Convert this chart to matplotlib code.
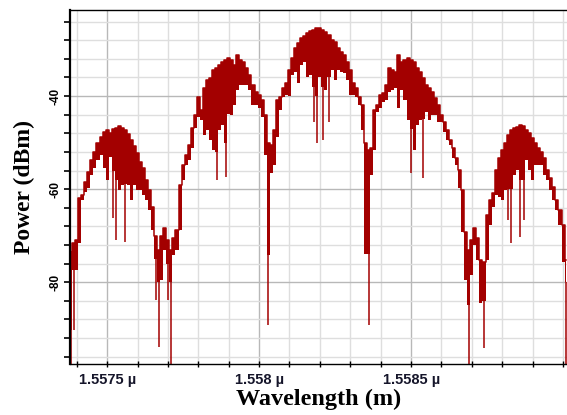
import numpy as np
import matplotlib.pyplot as plt
from matplotlib.ticker import MultipleLocator

# optical spectrum sampled every 0.01 nm (wavelength in um, power in dBm)
start_um = 1.55738
step_um = 0.00001

# upper edge of the trace in each sample bin
power_top = [
    -73.5, -71.6, -71.0, -61.9, -61.3, -58.5, -56.3, -53.8, -52.0, -50.1,
    -48.8, -47.7, -47.3, -48.0, -47.1, -46.9, -46.4, -46.9, -47.3, -48.2,
    -49.5, -50.8, -52.3, -54.2, -55.5, -58.1, -60.2, -63.9, -70.1, -73.1,
    -70.1, -68.4, -71.0, -73.1, -70.6, -68.8, -59.1, -54.8, -52.7, -50.5,
    -46.9, -44.1, -40.2, -43.0, -38.3, -36.6, -36.1, -34.4, -34.0, -33.3,
    -32.7, -32.3, -31.9, -32.3, -33.3, -31.2, -32.3, -32.7, -34.0, -35.5,
    -37.6, -39.1, -39.8, -40.9, -44.1, -50.1, -50.5, -47.3, -40.9, -40.2,
    -38.3, -37.2, -34.4, -31.9, -29.7, -28.6, -27.5, -27.1, -26.4, -26.0,
    -25.8, -25.4, -25.4, -25.8, -26.2, -26.9, -28.0, -28.4, -29.7, -30.5,
    -31.2, -32.7, -34.4, -37.2, -38.3, -40.2, -41.9, -50.1, -51.6, -51.2,
    -43.0, -41.9, -39.8, -39.4, -37.6, -34.0, -34.4, -34.9, -31.2, -32.7,
    -32.3, -31.9, -32.3, -32.7, -34.0, -34.9, -36.1, -37.6, -38.3, -39.1,
    -40.4, -41.9, -44.1, -45.6, -47.3, -49.5, -51.2, -53.3, -55.9, -60.2,
    -69.2, -73.1, -71.0, -68.4, -70.6, -75.3, -75.7, -65.6, -62.4, -60.9,
    -55.9, -53.3, -51.6, -50.1, -48.4, -47.3, -46.9, -46.6, -46.2, -46.4,
    -47.3, -48.0, -49.1, -50.1, -51.2, -52.0, -53.3, -55.9, -57.6, -59.6,
    -62.4, -64.5, -67.7, -75.3,
]

# lower edge of the dense ripple in each sample bin
power_low = [
    -90.3, -77.4, -77.4, -71.6, -62.4, -60.6, -59.8, -57.0, -55.5, -53.8,
    -52.7, -55.5, -58.1, -53.1, -56.0, -58.0, -60.2, -59.1, -59.0, -59.1,
    -62.4, -59.1, -60.2, -60.2, -61.3, -62.4, -64.5, -68.8, -75.0, -80.0,
    -79.6, -73.1, -76.0, -80.0, -74.2, -73.1, -68.8, -58.1, -54.8, -53.8,
    -51.2, -46.9, -44.5, -45.2, -48.4, -47.3, -49.5, -51.6, -52.0, -47.3,
    -46.2, -50.0, -43.9, -44.1, -41.9, -38.7, -37.6, -37.6, -37.6, -38.7,
    -41.9, -41.9, -42.6, -44.5, -52.7, -74.2, -56.6, -54.8, -48.8, -43.0,
    -40.2, -39.8, -40.0, -35.5, -34.9, -37.2, -33.3, -32.7, -35.9, -35.5,
    -38.0, -40.0, -35.9, -38.0, -38.7, -36.0, -34.4, -36.6, -34.4, -34.9,
    -35.1, -36.6, -39.8, -39.8, -40.2, -41.9, -47.3, -74.0, -74.0, -57.0,
    -51.6, -43.4, -42.6, -41.3, -40.9, -39.1, -38.7, -38.3, -42.6, -38.7,
    -40.9, -45.2, -47.0, -51.6, -46.2, -45.2, -45.0, -43.4, -45.2, -44.1,
    -44.1, -45.6, -45.6, -47.7, -49.5, -50.5, -53.3, -54.8, -59.8, -69.2,
    -79.6, -85.0, -78.5, -72.0, -75.3, -84.5, -84.0, -75.3, -67.7, -63.9,
    -61.3, -61.7, -62.4, -60.2, -60.0, -60.0, -57.0, -55.9, -58.0, -58.0,
    -53.8, -55.9, -58.1, -54.8, -54.8, -54.8, -57.0, -58.1, -60.2, -62.4,
    -64.5, -67.7, -75.7, -80.0,
]

# narrow notches reaching below the ripple
notch_um = [
    1.55738, 1.55739, 1.55752, 1.55753, 1.55756, 1.55766, 1.55767, 1.55770,
    1.55771, 1.55786, 1.55789, 1.55803, 1.55818, 1.55819, 1.55821, 1.55823,
    1.55836, 1.55850, 1.55854, 1.55869, 1.55873, 1.55874, 1.55882, 1.55883,
    1.55886, 1.55887, 1.55901,
]
notch_dbm = [
    -100.0, -90.3, -66.2, -71.0, -71.4, -83.9, -94.0, -83.9,
    -100.0, -58.1, -57.5, -89.2, -45.6, -50.1, -49.5, -45.6,
    -89.2, -56.6, -57.6, -100.0, -84.5, -94.2, -66.7, -71.6,
    -70.3, -66.7, -100.0,
]

x_major = [1.5575, 1.558, 1.5585]
x_labels = ['1.5575 µ', '1.558 µ', '1.5585 µ']
y_major = [-80, -60, -40]

wavelength = np.round(start_um + step_um * np.arange(len(power_top)), 6)
low_at_notch = np.interp(notch_um, wavelength, power_low)

trace_color = '#a30000'

fig = plt.figure(figsize=(5.67, 4.15), dpi=100)
ax = fig.add_axes([0.1235, 0.1217, 0.8765, 0.8542])

# ripple band, its upper edge, then the notches
ax.fill_between(wavelength, power_low, power_top, step='mid',
                color=trace_color, lw=0)
ax.step(wavelength, power_top, where='mid', color=trace_color, lw=1.1)
ax.vlines(notch_um, notch_dbm, low_at_notch, color=trace_color, lw=1.1)

ax.set_xlim(1.557378, 1.559013)
ax.set_ylim(-97.7, -21.5)

ax.set_xticks(x_major)
ax.set_xticklabels(x_labels)
ax.xaxis.set_minor_locator(MultipleLocator(0.0001))
ax.set_yticks(y_major)
ax.set_yticklabels([str(v) for v in y_major], rotation=90, va='center')
ax.yaxis.set_minor_locator(MultipleLocator(4))

ax.grid(which='major', color='#b8b8b8', lw=1.0)
ax.grid(which='minor', color='#dedede', lw=1.0)
ax.set_axisbelow(True)

ax.spines['right'].set_visible(False)
for side in ['top', 'bottom']:
    ax.spines[side].set_linestyle((0, (1, 1)))
    ax.spines[side].set_linewidth(1.0)
ax.spines['left'].set_linewidth(1.6)

ax.tick_params(axis='y', which='both', direction='out', length=4, width=1.2,
               labelsize=8.5, pad=2)
ax.tick_params(axis='x', which='both', direction='inout', length=4, width=1.0,
               labelsize=10.5, pad=4, labelcolor='#15152a')
for lbl in ax.get_xticklabels() + ax.get_yticklabels():
    lbl.set_fontweight('bold')
    lbl.set_family('Liberation Sans')

ax.set_xlabel('Wavelength (m)', fontsize=17.5, fontweight='bold',
              family='Liberation Serif')
ax.set_ylabel('Power (dBm)', fontsize=17, fontweight='bold',
              family='Liberation Serif')
ax.xaxis.set_label_coords(0.5, -0.069)
ax.yaxis.set_label_coords(-0.07, 0.5)

fig.savefig('out.png', dpi=100)
